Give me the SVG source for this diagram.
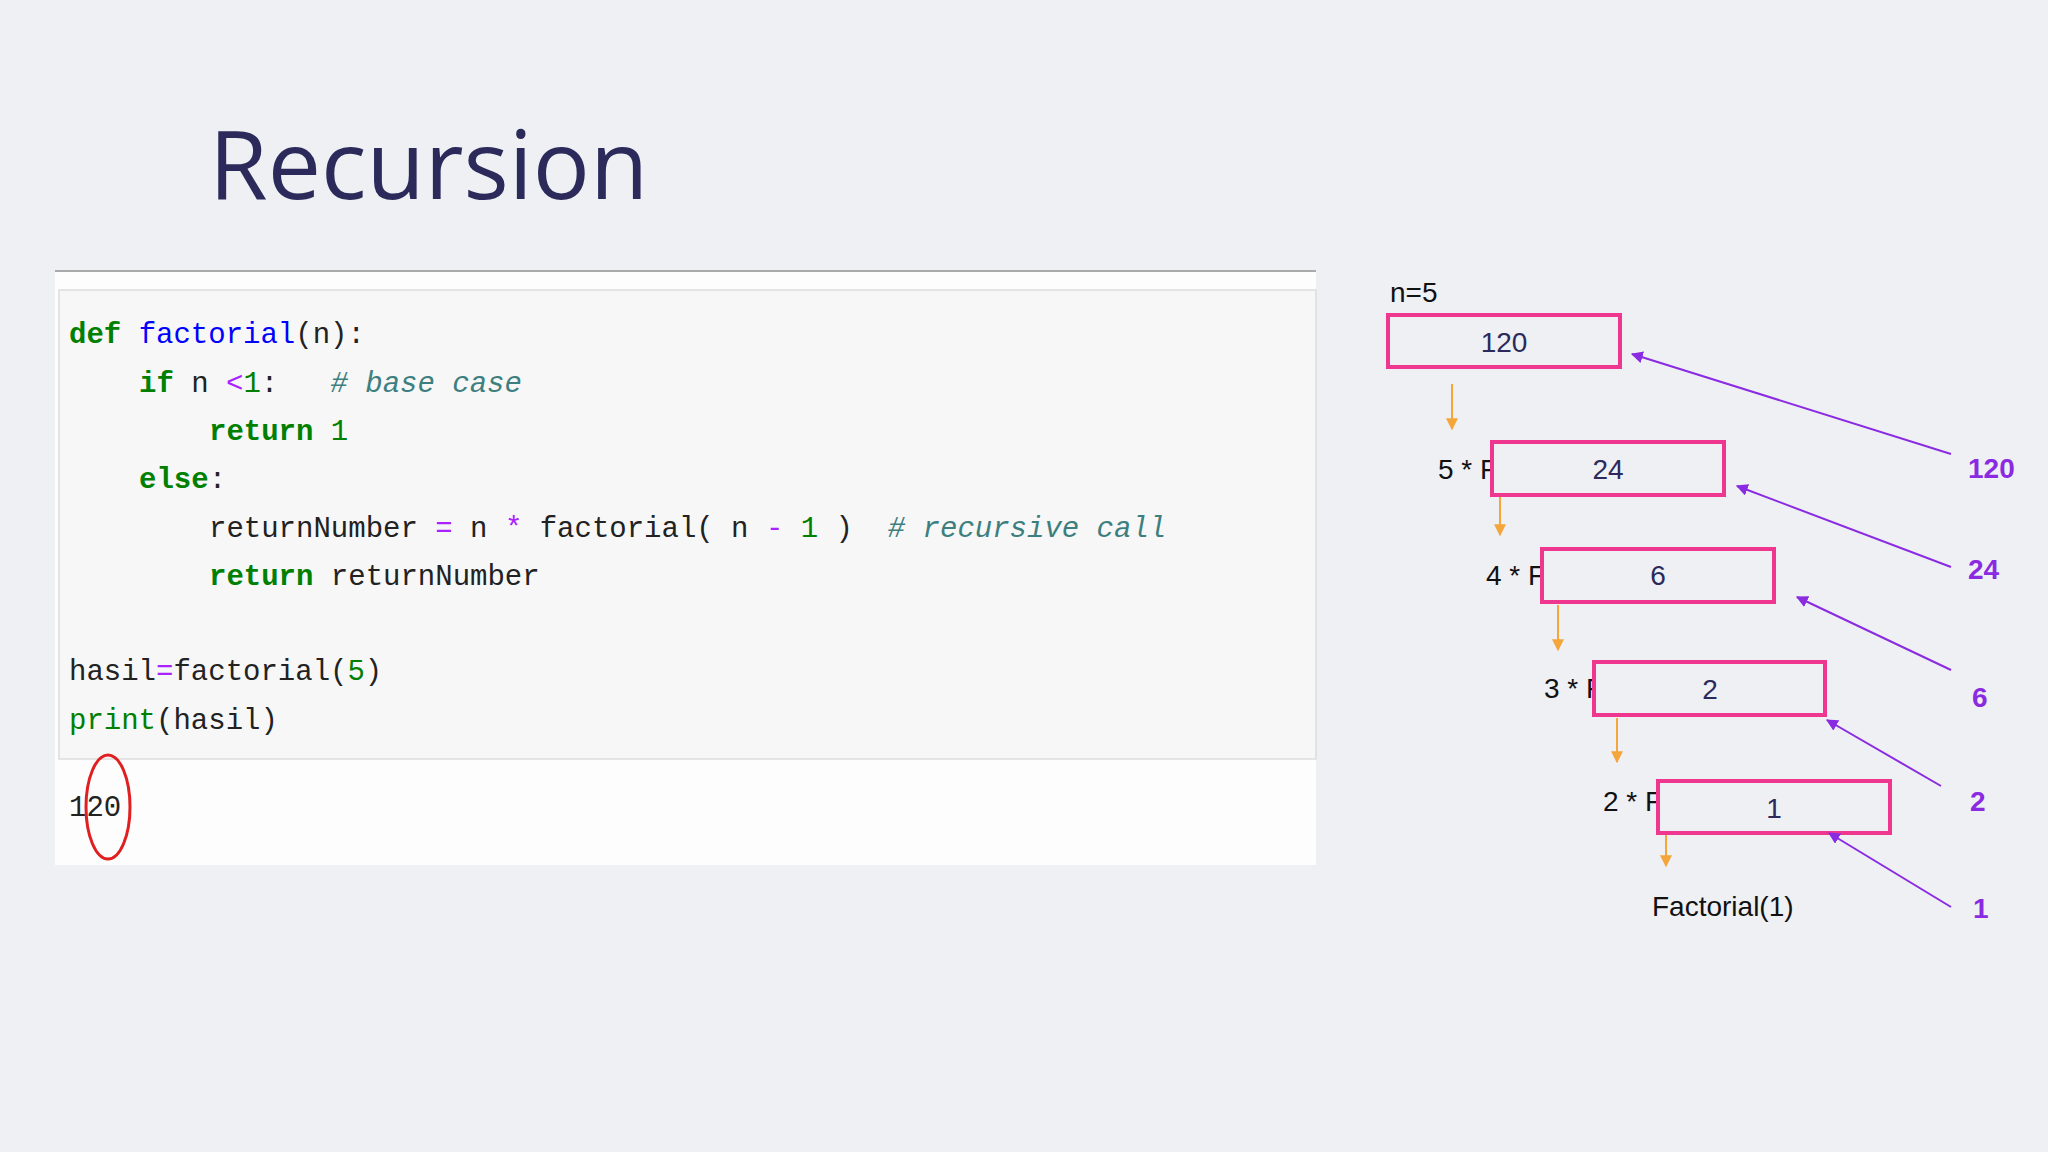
<svg xmlns="http://www.w3.org/2000/svg" width="2048" height="1152" viewBox="0 0 2048 1152">
<defs>
<marker id="ao" viewBox="0 0 10 10" refX="9" refY="5" markerWidth="6" markerHeight="6" orient="auto"><path d="M0,0L10,5L0,10z" fill="#f5a63a"/></marker>
<marker id="ap" viewBox="0 0 10 10" refX="9" refY="5" markerWidth="6" markerHeight="6" orient="auto"><path d="M0,0L10,5L0,10z" fill="#8a2be2"/></marker>
</defs>
<style>
.c{font-family:"Liberation Mono",monospace;font-size:29px;fill:#222;white-space:pre}
.k{fill:#008000;font-weight:bold}
.f{fill:#0000ff}
.m{fill:#3d7f7f;font-style:italic}
.o{fill:#aa22ff}
.n{fill:#008000}
.b{fill:#008000}
.t{font-family:"Liberation Sans",Arial,sans-serif;font-size:28px;fill:#111}
.v{font-family:"Liberation Sans",Arial,sans-serif;font-size:28px;fill:#2b2a5a;text-anchor:middle}
.box{fill:#eff0f4;stroke:#f0378f;stroke-width:4}
.p{font-family:"Liberation Sans",Arial,sans-serif;font-size:28px;font-weight:bold;fill:#8a2be2}
.ol{stroke:#f5a63a;stroke-width:2;marker-end:url(#ao)}
.pl{stroke:#8a2be2;stroke-width:2;marker-end:url(#ap)}
</style>
<rect width="2048" height="1152" fill="#eff0f4"/>
<text x="209" y="199" font-family="Open Sans,sans-serif" font-size="95" fill="#2b2a5a">Recursion</text>
<g id="code" xml:space="preserve">
<line x1="55" y1="271" x2="1316" y2="271" stroke="#aaa" stroke-width="2"/>
<rect x="55" y="272" width="1261" height="593" fill="#fdfdfd"/>
<rect x="59" y="290" width="1257" height="469" fill="#f7f7f7" stroke="#ddd" stroke-width="1.5"/>
<text class="c" x="69" y="343"><tspan class="k">def</tspan> <tspan class="f">factorial</tspan>(n):</text>
<text class="c" x="139" y="392"><tspan class="k">if</tspan> n <tspan class="o">&lt;</tspan><tspan class="n">1</tspan>:   <tspan class="m"># base case</tspan></text>
<text class="c" x="209" y="440"><tspan class="k">return</tspan> <tspan class="n">1</tspan></text>
<text class="c" x="139" y="488"><tspan class="k">else</tspan>:</text>
<text class="c" x="209" y="537">returnNumber <tspan class="o">=</tspan> n <tspan class="o">*</tspan> factorial( n <tspan class="o">-</tspan> <tspan class="n">1</tspan> )  <tspan class="m"># recursive call</tspan></text>
<text class="c" x="209" y="585"><tspan class="k">return</tspan> returnNumber</text>
<text class="c" x="69" y="680">hasil<tspan class="o">=</tspan>factorial(<tspan class="n">5</tspan>)</text>
<text class="c" x="69" y="729"><tspan class="b">print</tspan>(hasil)</text>
<text class="c" x="69" y="816">120</text>
<ellipse cx="108" cy="807" rx="22" ry="52" fill="none" stroke="#e02020" stroke-width="3"/>
</g>
<text class="t" x="1390" y="302">n=5</text>
<g id="n1"><rect class="box" x="1388" y="315" width="232" height="52"/><text class="v" x="1504" y="352">120</text></g>
<g id="n2"><text class="t" x="1438" y="479">5 * F</text><rect class="box" x="1492" y="442" width="232" height="53"/><text class="v" x="1608" y="479">24</text></g>
<g id="n3"><text class="t" x="1486" y="585">4 * F</text><rect class="box" x="1542" y="549" width="232" height="53"/><text class="v" x="1658" y="585">6</text></g>
<g id="n4"><text class="t" x="1544" y="698">3 * F</text><rect class="box" x="1594" y="662" width="231" height="53"/><text class="v" x="1710" y="699">2</text></g>
<g id="n5"><text class="t" x="1603" y="811">2 * F</text><rect class="box" x="1658" y="781" width="232" height="52"/><text class="v" x="1774" y="818">1</text></g>
<text class="t" x="1652" y="916">Factorial(1)</text>
<g id="vals">
<text class="p" x="1968" y="478">120</text>
<text class="p" x="1968" y="579">24</text>
<text class="p" x="1972" y="707">6</text>
<text class="p" x="1970" y="811">2</text>
<text class="p" x="1973" y="918">1</text>
</g>
<g id="connectors">
<line class="ol" x1="1452" y1="384" x2="1452" y2="429"/>
<line class="ol" x1="1500" y1="497" x2="1500" y2="535"/>
<line class="ol" x1="1558" y1="605" x2="1558" y2="650"/>
<line class="ol" x1="1617" y1="718" x2="1617" y2="762"/>
<line class="ol" x1="1666" y1="835" x2="1666" y2="866"/>
<line class="pl" x1="1951" y1="454" x2="1632" y2="354"/>
<line class="pl" x1="1951" y1="567" x2="1737" y2="486"/>
<line class="pl" x1="1951" y1="670" x2="1797" y2="597"/>
<line class="pl" x1="1941" y1="786" x2="1827" y2="720"/>
<line class="pl" x1="1951" y1="907" x2="1829" y2="833"/>
</g>
</svg>
